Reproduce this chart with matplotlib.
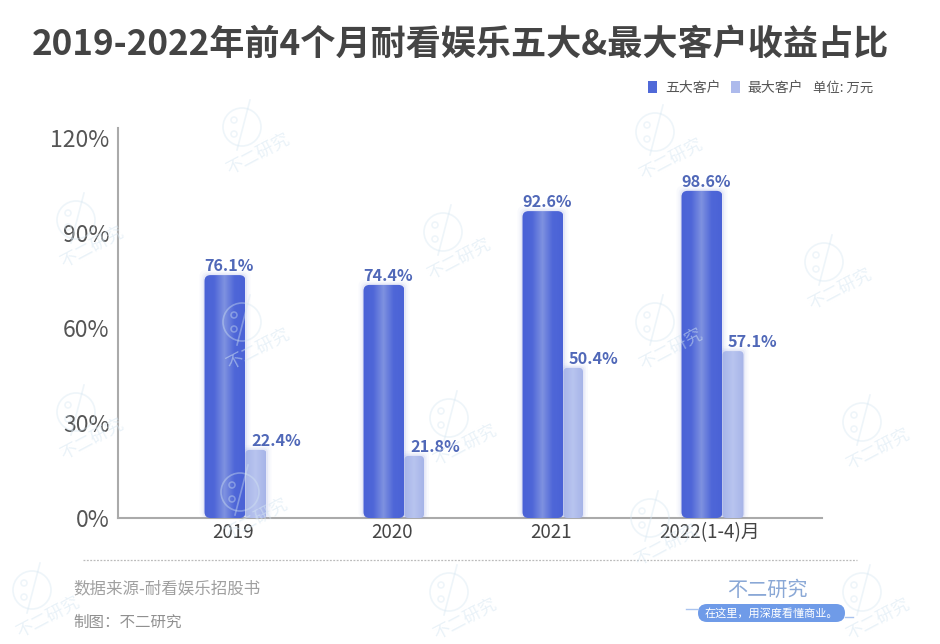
import numpy as np
import matplotlib
matplotlib.use('Agg')
import matplotlib.pyplot as plt
from matplotlib.patches import FancyBboxPatch, Circle, Patch
from matplotlib.colors import LinearSegmentedColormap

plt.rcParams['font.family'] = ['Noto Sans CJK SC', 'DejaVu Sans']

categories = ['2019', '2020', '2021', '2022(1-4)月']
# printed labels
top5_labels = ['76.1%', '74.4%', '92.6%', '98.6%']
top1_labels = ['22.4%', '21.8%', '50.4%', '57.1%']
# bar heights as drawn against the axis (they differ a bit from the printed labels)
top5_heights = [76.7, 73.6, 96.9, 103.3]
top1_heights = [21.5, 19.6, 47.4, 52.7]
yticks = [0, 30, 60, 90, 120]
ytick_labels = ['0%', '30%', '60%', '90%', '120%']
# watermark icon centres, pixels from top left
marks = [(242, 127), (76, 220), (443, 232), (655, 132), (824, 262), (242, 322), (655, 322),
         (76, 412), (449, 418), (862, 422), (240, 492), (650, 518), (32, 590), (449, 592), (862, 592)]

W, H = 940, 644
fig = plt.figure(figsize=(W / 100, H / 100), dpi=100)
ax = fig.add_axes([118 / W, 1 - 518 / H, (822 - 118) / W, (518 - 128) / H])

# one x unit = 159 px, one y unit = 3.167 px
px_x = 1 / 159
px_y = 1 / 3.167
ax.set_xlim((118 - 233) * px_x, (822 - 233) * px_x)
ax.set_ylim(0, 390 * px_y)
aspect = px_y / px_x

dark = LinearSegmentedColormap.from_list('d', ['#4a62d6', '#4f67d8', '#7f92e0', '#4f67d8', '#4a62d6'])
light = LinearSegmentedColormap.from_list('l', ['#a6b4e8', '#b8c4ef', '#a6b4e8'])
grad = np.linspace(0, 1, 64).reshape(1, -1)


def draw_bar(x0, w, h, cmap, r):
    # soft shadow
    for grow, a in [(5, 0.04), (3, 0.06), (1.5, 0.1)]:
        ax.add_patch(FancyBboxPatch((x0 - grow * px_x, 0), w + 2 * grow * px_x, h + grow * px_y,
                                    boxstyle='round,pad=0,rounding_size=%f' % (r * px_x),
                                    mutation_aspect=aspect, fc='#7f90dd', ec='none', alpha=a, zorder=2, clip_on=False))
    box = FancyBboxPatch((x0, 0), w, h, boxstyle='round,pad=0,rounding_size=%f' % (r * px_x),
                         mutation_aspect=aspect, fc='none', ec='none', zorder=3, clip_on=False)
    ax.add_patch(box)
    im = ax.imshow(grad, extent=[x0, x0 + w, 0, h], aspect='auto', cmap=cmap, zorder=3)
    im.set_clip_path(box)


for i in range(4):
    big_left = i + (-28.5) * px_x
    big_w = 41 * px_x
    small_left = big_left + big_w
    small_w = 21 * px_x if i in (0, 3) else 19.5 * px_x
    draw_bar(small_left, small_w, top1_heights[i], light, 4)
    draw_bar(big_left, big_w, top5_heights[i], dark, 6)
    ax.annotate(top5_labels[i], (big_left + big_w / 2, top5_heights[i]), xytext=(3, 0.5), textcoords='offset points',
                ha='center', va='bottom', fontsize=11.7, fontweight='bold', color='#5068b8', zorder=5)
    ax.annotate(top1_labels[i], (small_left, top1_heights[i]), xytext=(4, 0.5), textcoords='offset points',
                ha='left', va='bottom', fontsize=11.7, fontweight='bold', color='#5068b8', zorder=5)

ax.set_xlim((118 - 233) * px_x, (822 - 233) * px_x)
ax.set_ylim(0, 390 * px_y)
ax.set_xticks(range(4), categories)
ax.set_yticks(yticks, ytick_labels)
ax.tick_params(axis='x', length=0, labelsize=13.5, labelcolor='#444444', pad=3)
ax.tick_params(axis='y', length=0, labelsize=16.5, labelcolor='#555555', pad=6)
for s in ['top', 'right']:
    ax.spines[s].set_visible(False)
for s in ['left', 'bottom']:
    ax.spines[s].set_color('#aaaaaa')
    ax.spines[s].set_linewidth(1.5)
    ax.spines[s].set_zorder(1)
ax.patch.set_alpha(0)

fig.text(460 / W, 1 - 44 / H, '2019-2022年前4个月耐看娱乐五大&最大客户收益占比', ha='center', va='center',
         fontsize=25.3, fontweight='bold', color='#444444')

handles = [Patch(fc='#5069d8', ec='none', label='五大客户'), Patch(fc='#adbaec', ec='none', label='最大客户')]
fig.legend(handles=handles, loc='center left', bbox_to_anchor=(648 / W, 1 - 88 / H), ncol=2, frameon=False,
           fontsize=10, labelcolor='#555555', handlelength=0.65, handleheight=1.0, handletextpad=0.58,
           columnspacing=0.72, borderpad=0, borderaxespad=0)
fig.text(813 / W, 1 - 88 / H, '单位: 万元', ha='left', va='center', fontsize=9.6, color='#555555')

# overlay in pixel coordinates for watermarks, footer and logo
ov = fig.add_axes([0, 0, 1, 1], zorder=10)
ov.set_xlim(0, W)
ov.set_ylim(H, 0)
ov.axis('off')
ov.patch.set_alpha(0)

wm = '#d5e6f2'
for mx, my in marks:
    ov.add_patch(Circle((mx, my), 19, fc='none', ec=wm, lw=1.2, alpha=0.4))
    ov.plot([mx + 8, mx - 5], [my - 27, my + 23], color=wm, lw=1.2, alpha=0.4)
    ov.add_patch(Circle((mx - 8, my - 7), 3, fc='none', ec=wm, lw=1.1, alpha=0.4))
    ov.add_patch(Circle((mx - 8, my + 7), 3, fc='none', ec=wm, lw=1.1, alpha=0.4))
    ov.text(mx + 16, my + 27, '不二研究', rotation=28, ha='center', va='center', fontsize=12.5, color=wm, alpha=0.5,
            rotation_mode='anchor')

ov.plot([83, 857], [560, 560], color='#bbbbbb', lw=0.9, ls=(0, (1.5, 1.2)))
ov.text(73, 589, '数据来源-耐看娱乐招股书', ha='left', va='center', fontsize=11.9, color='#a0a0a0')
ov.text(73, 622, '制图：不二研究', ha='left', va='center', fontsize=11.2, color='#909090')

ov.text(767, 590, '不二研究', ha='center', va='center', fontsize=14.5, color='#8aa8d6')
ov.add_patch(FancyBboxPatch((698, 604), 147, 18, boxstyle='round,pad=0,rounding_size=9', fc='#6f9be8', ec='none'))
ov.plot([686, 698], [609, 609], color='#a9c3ef', lw=1)
ov.plot([845, 853], [617, 617], color='#a9c3ef', lw=1)
ov.text(771, 613, '在这里，用深度看懂商业。', ha='center', va='center', fontsize=8, color='white')

fig.savefig('out.png', dpi=100, facecolor='white')
